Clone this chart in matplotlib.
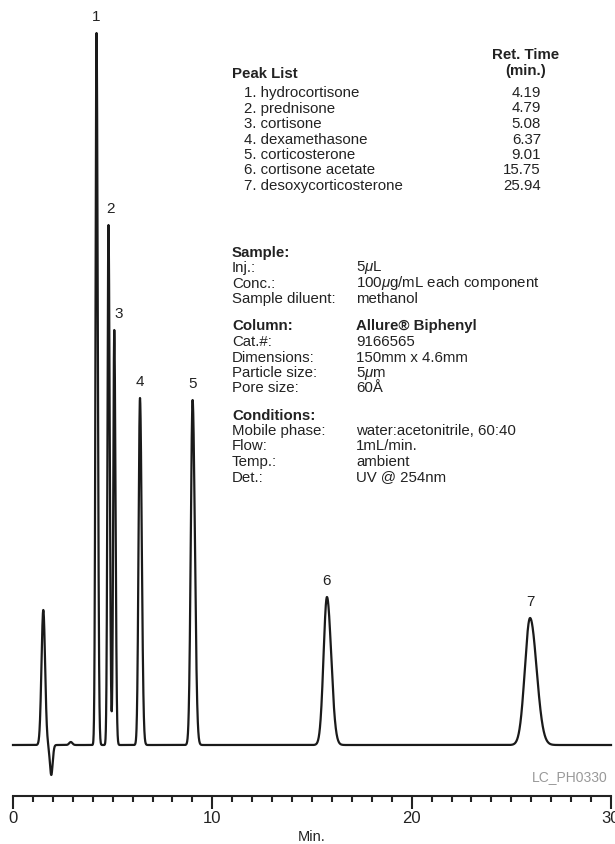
import numpy as np
import matplotlib
matplotlib.use("Agg")
import matplotlib.pyplot as plt
from matplotlib.ticker import MultipleLocator
from matplotlib import font_manager as fm

# ---------------- data ----------------
peak_numbers = ["1", "2", "3", "4", "5", "6", "7"]
peak_names = ["hydrocortisone", "prednisone", "cortisone", "dexamethasone",
              "corticosterone", "cortisone acetate", "desoxycorticosterone"]
ret_times = [4.19, 4.79, 5.08, 6.37, 9.01, 15.75, 25.94]
peak_heights = [712, 520, 415, 347, 345, 148, 127]
peak_sigmas = [0.05, 0.05, 0.05, 0.07, 0.09, 0.17, 0.26]
# void / injection disturbance
void_times = [1.52, 1.92, 2.9]
void_heights = [135, -30, 3]
void_sigmas = [0.09, 0.07, 0.08]

sample_labels = ["Inj.:", "Conc.:", "Sample diluent:"]
sample_values = ["5$\\mu$L", "100$\\mu$g/mL each component", "methanol"]
column_name = "Allure\u00ae Biphenyl"
column_labels = ["Cat.#:", "Dimensions:", "Particle size:", "Pore size:"]
column_values = ["9166565", "150mm x 4.6mm", "5$\\mu$m", "60\u00c5"]
cond_labels = ["Mobile phase:", "Flow:", "Temp.:", "Det.:"]
cond_values = ["water:acetonitrile, 60:40", "1mL/min.", "ambient", "UV @ 254nm"]

# ---------------- figure ----------------
W, H = 615, 844
fig = plt.figure(figsize=(W / 100, H / 100), dpi=100)
names = {f.name for f in fm.fontManager.ttflist}
FAM = [n for n in ["DejaVu Sans Condensed", "Liberation Sans Narrow",
                   "Liberation Sans", "DejaVu Sans"] if n in names]
plt.rcParams["font.family"] = FAM
plt.rcParams["mathtext.fontset"] = "custom"
plt.rcParams["mathtext.it"] = FAM[0] + ":italic"
plt.rcParams["mathtext.rm"] = FAM[0]

x0, x1 = 13, 611
ybase, yaxis = 745, 796
ax = fig.add_axes([x0 / W, 1 - yaxis / H, (x1 - x0) / W, yaxis / H])
ax.set_xlim(0, 30)
ax.set_ylim(-(yaxis - ybase), ybase)

t = np.linspace(0, 30, 6000)
sig = np.zeros_like(t)
for rt, h, s in zip(ret_times, peak_heights, peak_sigmas):
    s_arr = np.where(t < rt, s, s * 1.25)
    sig += h * np.exp(-0.5 * ((t - rt) / s_arr) ** 2)
for rt, h, s in zip(void_times, void_heights, void_sigmas):
    sig += h * np.exp(-0.5 * ((t - rt) / s) ** 2)
ax.plot(t, sig, color="#1a1a1a", lw=1.6, clip_on=False)

for num, rt, h in zip(peak_numbers, ret_times, peak_heights):
    off = 16
    dx = {"2": 0.1, "3": 0.2}.get(num, 0.0)
    ax.text(rt + dx, h + off, num, ha="center", va="center", fontsize=11,
            color="#222222")

for sp in ["top", "right", "left"]:
    ax.spines[sp].set_visible(False)
ax.spines["bottom"].set_linewidth(1.5)
ax.spines["bottom"].set_color("#222222")
ax.set_yticks([])
ax.xaxis.set_major_locator(MultipleLocator(10))
ax.xaxis.set_minor_locator(MultipleLocator(1))
ax.tick_params(axis="x", which="major", direction="out", length=9, width=1.5,
               colors="#222222", labelsize=12, pad=2)
ax.tick_params(axis="x", which="minor", direction="out", length=4.5, width=1.5,
               colors="#222222")
ax.set_xlabel("Min.", fontsize=10.5, labelpad=3, color="#222222")
ax.patch.set_alpha(0)

def T(x, y, s, **kw):
    kw.setdefault("fontsize", 10.8)
    kw.setdefault("color", "#222222")
    fig.text(x / W, 1 - y / H, s, va="center", **kw)

T(526, 55, "Ret. Time", ha="center", fontweight="bold")
T(526, 71, "(min.)", ha="center", fontweight="bold")
T(232, 74, "Peak List", fontweight="bold")
row_y = 93
for i, (nm, rt) in enumerate(zip(peak_names, ret_times)):
    y = row_y + i * 15.5
    T(244, y, f"{i + 1}. {nm}")
    T(541, y, f"{rt:.2f}", ha="right")

lx, vx = 232, 356
T(lx, 253, "Sample:", fontweight="bold")
for i, (a, b) in enumerate(zip(sample_labels, sample_values)):
    T(lx, 268 + i * 15.5, a)
    T(vx, 268 + i * 15.5, b)

T(lx, 326, "Column:", fontweight="bold")
T(vx, 326, column_name, fontweight="bold")
for i, (a, b) in enumerate(zip(column_labels, column_values)):
    T(lx, 342 + i * 15.5, a)
    T(vx, 342 + i * 15.5, b)

T(lx, 416, "Conditions:", fontweight="bold")
for i, (a, b) in enumerate(zip(cond_labels, cond_values)):
    T(lx, 431 + i * 15.5, a)
    T(vx, 431 + i * 15.5, b)

T(608, 777, "LC_PH0330", ha="right", color="#999999", fontsize=10)

fig.savefig("out.png", dpi=100)
